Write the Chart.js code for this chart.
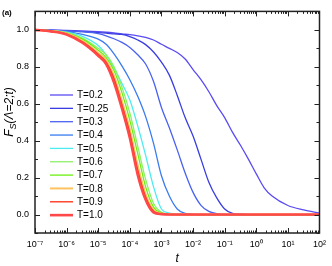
<!DOCTYPE html>
<html><head><meta charset="utf-8">
<script src="https://cdn.jsdelivr.net/npm/chart.js@4.4.0/dist/chart.umd.min.js"></script>
<style>html,body{margin:0;padding:0;background:#fff;overflow:hidden}#wrap{width:332px;height:266px;position:relative}</style>
</head><body><div id="wrap"><canvas id="c" width="332" height="266"></canvas></div>
<script>
// time grid (log10 t)
const logTimes = [-7,-6.5,-6,-5.5,-5,-4.75,-4.5,-4.25,-4,-3.75,-3.5,-3.25,-3,-2.75,-2.5,-2.25,-2,-1.75,-1.5,-1.25,-1,-0.75,-0.5,-0.25,0,0.25,0.5,1,1.5,2];
const temperatures = ['T=0.2','T=0.25','T=0.3','T=0.4','T=0.5','T=0.6','T=0.7','T=0.8','T=0.9','T=1.0'];
const fsT020 = [1.000,0.999,0.997,0.994,0.990,0.987,0.983,0.978,0.974,0.968,0.960,0.945,0.922,0.900,0.877,0.842,0.785,0.730,0.665,0.590,0.525,0.445,0.375,0.300,0.220,0.145,0.100,0.049,0.025,0.008];
const fsT025 = [1.000,0.998,0.995,0.990,0.985,0.982,0.978,0.975,0.963,0.945,0.920,0.880,0.825,0.755,0.645,0.525,0.425,0.300,0.175,0.090,0.030,0.006,0.002,0,0,0,0,0,0,0];
const fsT030 = [1.000,0.998,0.995,0.990,0.980,0.968,0.952,0.932,0.905,0.865,0.815,0.720,0.580,0.470,0.350,0.225,0.120,0.050,0.017,0.005,0.001,0,0,0,0,0,0,0,0,0];
const fsT040 = [1.000,0.997,0.990,0.975,0.950,0.922,0.870,0.805,0.730,0.640,0.530,0.385,0.210,0.100,0.030,0.006,0.001,0,0,0,0,0,0,0,0,0,0,0,0,0];
const fsT050 = [1.000,0.996,0.988,0.965,0.915,0.865,0.795,0.710,0.620,0.480,0.320,0.150,0.030,0.008,0.002,0,0,0,0,0,0,0,0,0,0,0,0,0,0,0];
const fsT060 = [1.000,0.996,0.986,0.955,0.900,0.865,0.800,0.690,0.550,0.370,0.190,0.060,0.012,0.002,0,0,0,0,0,0,0,0,0,0,0,0,0,0,0,0];
const fsT070 = [1.000,0.995,0.983,0.950,0.890,0.850,0.780,0.660,0.510,0.330,0.150,0.040,0.008,0.001,0,0,0,0,0,0,0,0,0,0,0,0,0,0,0,0];
const fsT080 = [1.000,0.994,0.980,0.940,0.875,0.835,0.750,0.615,0.460,0.265,0.110,0.025,0.004,0.001,0,0,0,0,0,0,0,0,0,0,0,0,0,0,0,0];
const fsT090 = [1.000,0.993,0.977,0.935,0.868,0.825,0.735,0.595,0.440,0.240,0.095,0.018,0.003,0,0,0,0,0,0,0,0,0,0,0,0,0,0,0,0,0];
const fsT100 = [1.000,0.992,0.975,0.930,0.860,0.815,0.715,0.575,0.415,0.215,0.080,0.012,0.002,0,0,0,0,0,0,0,0,0,0,0,0,0,0,0,0,0];
const seriesValues = [fsT020,fsT025,fsT030,fsT040,fsT050,fsT060,fsT070,fsT080,fsT090,fsT100];
const seriesColors = ['#5a4cf2','#3a3ee0','#4a62f0','#3a7cf0','#4cecf2','#8ef06a','#6cf010','#ffc25e','#ff2a10','#ff4848'];
const seriesWidths = [1.3,1.3,1.3,1.3,1.3,1.3,1.3,2,1.3,2.6];
const xTickExponents = [-7,-6,-5,-4,-3,-2,-1,0,1,2];
const yTickValues = [0,0.2,0.4,0.6,0.8,1.0];
const yMinorValues = [-0.1,0.1,0.3,0.5,0.7,0.9,1.1];
const supMap = {'-':'⁻','0':'⁰','1':'¹','2':'²','3':'³','4':'⁴','5':'⁵','6':'⁶','7':'⁷','8':'⁸','9':'⁹'};

const datasets = temperatures.map((lab,i)=>({
  label: lab,
  data: logTimes.map((e,j)=>({x: Math.pow(10,e), y: seriesValues[i][j]})),
  borderColor: seriesColors[i],
  backgroundColor: seriesColors[i],
  borderWidth: seriesWidths[i],
  pointRadius: 0,
  fill: false,
  cubicInterpolationMode: 'monotone',
  order: temperatures.length - i
}));

const FONT = '"Liberation Sans", Arial, sans-serif';

const decorPlugin = {
  id: 'decor',
  afterDraw(chart){
    const {ctx, chartArea:a, scales:{x,y}} = chart;
    ctx.save();
    const line = (x1,y1,x2,y2)=>{ctx.beginPath();ctx.moveTo(x1,y1);ctx.lineTo(x2,y2);ctx.stroke();};
    ctx.strokeStyle = '#222';
    ctx.lineWidth = 1;
    xTickExponents.forEach(e=>{
      const px = Math.round(x.getPixelForValue(Math.pow(10,e)))+0.5;
      line(px,a.bottom,px,a.bottom-5); line(px,a.top,px,a.top+5);
      if (e < xTickExponents[xTickExponents.length-1]) {
        for (let k=2;k<=9;k++){
          const pm = Math.round(x.getPixelForValue(k*Math.pow(10,e)))+0.5;
          line(pm,a.bottom,pm,a.bottom-2.5); line(pm,a.top,pm,a.top+2.5);
        }
      }
    });
    yTickValues.forEach(v=>{
      const py = Math.round(y.getPixelForValue(v))+0.5;
      line(a.left,py,a.left+5,py); line(a.right,py,a.right-5,py);
    });
    yMinorValues.forEach(v=>{
      const py = Math.round(y.getPixelForValue(v))+0.5;
      line(a.left,py,a.left+3,py); line(a.right,py,a.right-3,py);
    });
    ctx.lineWidth = 1.5;
    ctx.strokeRect(a.left, a.top, a.right-a.left, a.bottom-a.top);
    // legend
    ctx.font = '10px ' + FONT;
    ctx.textBaseline = 'middle';
    ctx.fillStyle = '#000';
    chart.data.datasets.forEach((ds,i)=>{
      const ly = 95 + i*13.35;
      ctx.strokeStyle = ds.borderColor;
      ctx.lineWidth = ds.borderWidth;
      line(50,ly,73,ly);
      ctx.fillText(ds.label, 77, ly+0.5);
    });
    ctx.font = 'bold 8px ' + FONT;
    ctx.fillText('(a)', 2, 13);
    // y title
    ctx.translate(9, 112);
    ctx.rotate(-Math.PI/2);
    const f1 = 'italic 12px ' + FONT, f2 = 'italic 9px ' + FONT;
    ctx.font = f1; const wF = ctx.measureText('F').width; const wR = ctx.measureText('(Λ=2;t)').width;
    ctx.font = f2; const wS = ctx.measureText('S').width;
    let sx = -(wF+wS+wR)/2;
    ctx.textBaseline = 'alphabetic';
    ctx.font = f1; ctx.fillText('F', sx, 4); sx += wF;
    ctx.font = f2; ctx.fillText('S', sx, 7); sx += wS;
    ctx.font = f1; ctx.fillText('(Λ=2;t)', sx, 4);
    ctx.restore();
  }
};

new Chart(document.getElementById('c'), {
  type: 'line',
  data: { datasets },
  options: {
    responsive: false,
    animation: false,
    devicePixelRatio: 1,
    layout: { padding: { left: 0, right: 7, top: 1, bottom: 0 } },
    plugins: { legend: { display: false }, tooltip: { enabled: false } },
    scales: {
      x: {
        type: 'logarithmic',
        min: 1e-7, max: 1e2,
        grid: { display: false, drawTicks: false },
        border: { display: false },
        afterBuildTicks: s => { s.ticks = xTickExponents.map(e=>({value: Math.pow(10,e), major: true})); },
        afterFit: s => { s.height = 33; },
        ticks: {
          autoSkip: false, maxRotation: 0, padding: 6, color: '#000',
          font: { family: FONT, size: 9 },
          callback: v => { const e = Math.round(Math.log10(v)); return '10' + String(e).split('').map(c=>supMap[c]).join(''); }
        },
        title: { display: true, text: 't', color: '#000', font: { family: FONT, size: 12, style: 'italic' }, padding: { top: 0, bottom: 0 } }
      },
      y: {
        type: 'linear',
        min: -0.1, max: 1.1,
        grid: { display: false, drawTicks: false },
        border: { display: false },
        afterBuildTicks: s => { s.ticks = yTickValues.map(v=>({value: v})); },
        afterFit: s => { s.width = 35; },
        ticks: { padding: 6, color: '#000', font: { family: FONT, size: 9 }, callback: v => Number(v).toFixed(1) }
      }
    }
  },
  plugins: [decorPlugin]
});
</script></body></html>
